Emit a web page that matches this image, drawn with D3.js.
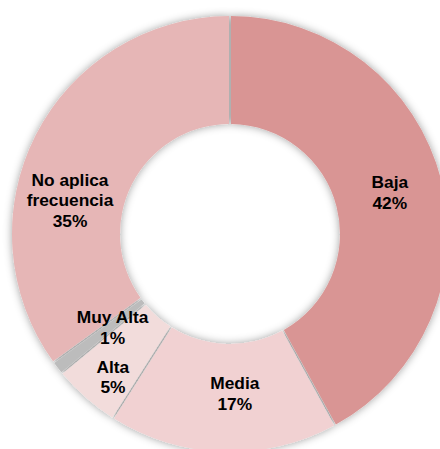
<!DOCTYPE html>
<html>
<head>
<meta charset="utf-8">
<script src="https://cdn.jsdelivr.net/npm/d3@7"></script>
<style>
  html, body { margin: 0; padding: 0; background: #ffffff; }
  svg { display: block; }
</style>
</head>
<body>
<svg id="chart" width="440" height="449"></svg>
<script>
// Distribution by frequency level (percent)
const categories = ["Baja", "Media", "Alta", "Muy Alta", "No aplica frecuencia"];
const values = [42, 17, 5, 1, 35];
const labelLines = [["Baja"], ["Media"], ["Alta"], ["Muy Alta"], ["No aplica", "frecuencia"]];
const colors = ["#d99594", "#f1d1d2", "#f2dcdb", "#bcbcbc", "#e6b6b6"];

// Label placement tweaks relative to each slice's centroid
const labelNudge = [[0, -1], [10, -6], [-8, 19], [13, -8], [-13, 41]];

const width = 440, height = 449;
const cx = 230, cy = 234;
const outerR = 218, innerR = 110, labelR = 165;
const fontSize = 17.33, lineH = 20.8, capHalf = 6.2;

const svg = d3.select("#chart");

// Soft outer shadow around the ring
const defs = svg.append("defs");
const f = defs.append("filter").attr("id", "ringShadow")
  .attr("x", "-20%").attr("y", "-20%").attr("width", "140%").attr("height", "140%");
f.append("feGaussianBlur").attr("in", "SourceAlpha").attr("stdDeviation", 4).attr("result", "blur");
f.append("feFlood").attr("flood-color", "#000").attr("flood-opacity", 0.38).attr("result", "col");
f.append("feComposite").attr("in", "col").attr("in2", "blur").attr("operator", "in").attr("result", "shadow");
const merge = f.append("feMerge");
merge.append("feMergeNode").attr("in", "shadow");
merge.append("feMergeNode").attr("in", "SourceGraphic");

const data = categories.map((c, i) => ({ name: c, value: values[i], lines: labelLines[i], color: colors[i], nudge: labelNudge[i] }));

const pie = d3.pie().sort(null).value(d => d.value).startAngle(0).endAngle(2 * Math.PI);
const arcs = pie(data);

const arc = d3.arc().innerRadius(innerR).outerRadius(outerR).padAngle(0.01).padRadius(200);
const labelArc = d3.arc().innerRadius(labelR).outerRadius(labelR);

const g = svg.append("g").attr("transform", `translate(${cx},${cy})`);

g.append("g").attr("filter", "url(#ringShadow)")
  .selectAll("path")
  .data(arcs)
  .join("path")
  .attr("d", arc)
  .attr("fill", d => d.data.color);

const labels = g.append("g")
  .attr("font-family", "'Liberation Sans', Arial, sans-serif")
  .attr("font-weight", "bold")
  .attr("font-size", fontSize)
  .attr("fill", "#000")
  .attr("text-anchor", "middle");

arcs.forEach(a => {
  const [x, y] = labelArc.centroid(a);
  const lx = x + a.data.nudge[0];
  const ly = y + a.data.nudge[1];
  const lines = a.data.lines.concat([a.data.value + "%"]);
  const n = lines.length;
  const t = labels.append("text").attr("x", lx).attr("y", ly);
  lines.forEach((ln, i) => {
    t.append("tspan")
      .attr("x", lx)
      .attr("y", ly + (i - (n - 1) / 2) * lineH + capHalf)
      .text(ln);
  });
});
</script>
</body>
</html>
